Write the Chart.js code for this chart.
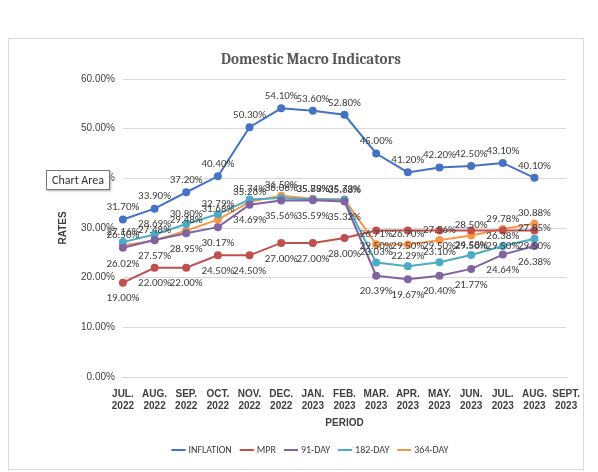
<!DOCTYPE html>
<html>
<head>
<meta charset="utf-8">
<script src="https://cdn.jsdelivr.net/npm/chart.js@4"></script>
<style>
  body { margin: 0; background: #fff; }
  #wrap { position: absolute; left: 8px; top: 38px; width: 574px; height: 430px; border: 1px solid #d9d9d9; }
  #tip { position: absolute; left: 46px; top: 170px; border: 1px solid #777; background: #fff; font: 12px Calibri, "Liberation Sans", sans-serif; color: #333; padding: 2px 5px; box-shadow: 1px 1px 2px #aaa; }
</style>
</head>
<body>
<div id="wrap"><canvas id="c"></canvas></div>
<div id="tip">Chart Area</div>
<script>
const periods = [["JUL.","2022"],["AUG.","2022"],["SEP.","2022"],["OCT.","2022"],["NOV.","2022"],["DEC.","2022"],["JAN.","2023"],["FEB.","2023"],["MAR.","2023"],["APR.","2023"],["MAY.","2023"],["JUN.","2023"],["JUL.","2023"],["AUG.","2023"],["SEPT.","2023"]];
const inflation = [31.70, 33.90, 37.20, 40.40, 50.30, 54.10, 53.60, 52.80, 45.00, 41.20, 42.20, 42.50, 43.10, 40.10, null];
const mpr = [19.00, 22.00, 22.00, 24.50, 24.50, 27.00, 27.00, 28.00, 29.50, 29.50, 29.50, 29.50, 29.50, 29.50, null];
const day91 = [26.02, 27.57, 28.95, 30.17, 34.69, 35.56, 35.59, 35.32, 20.39, 19.67, 20.40, 21.77, 24.64, 26.38, null];
const day182 = [27.16, 28.69, 30.80, 32.79, 35.74, 36.06, 35.79, 35.68, 23.03, 22.29, 23.10, 24.58, 26.38, 27.85, null];
const day364 = [26.50, 27.48, 29.48, 31.68, 35.26, 36.50, 35.88, 35.73, 26.71, 26.70, 27.56, 28.50, 29.78, 30.88, null];

const labelPlugin = {
  id: 'pointLabels',
  afterDatasetsDraw(chart) {
    const ctx = chart.ctx;
    ctx.save();
    ctx.font = '11px Calibri, "Liberation Sans", sans-serif';
    ctx.fillStyle = '#404040';
    ctx.textAlign = 'center';
    const offs = [-12, 16, 16, -10, -10];
    chart.data.datasets.forEach((ds, i) => {
      chart.getDatasetMeta(i).data.forEach((pt, j) => {
        const v = ds.data[j];
        if (v == null) return;
        ctx.fillText(v.toFixed(2) + '%', pt.x, pt.y + offs[i]);
      });
    });
    ctx.restore();
  }
};

function line(label, data, color) {
  return { label, data, borderColor: color, backgroundColor: color, borderWidth: 2, pointRadius: 3, pointStyle: 'circle', tension: 0 };
}

new Chart(document.getElementById('c'), {
  type: 'line',
  data: {
    labels: periods,
    datasets: [
      line('INFLATION', inflation, '#4472c4'),
      line('MPR', mpr, '#c0504d'),
      line('91-DAY', day91, '#8064a2'),
      line('182-DAY', day182, '#4bacc6'),
      line('364-DAY', day364, '#f79646')
    ]
  },
  options: {
    responsive: true,
    maintainAspectRatio: false,
    animation: false,
    layout: { padding: { left: 44, right: 14, top: 6, bottom: 4 } },
    plugins: {
      title: { display: true, text: 'Domestic Macro Indicators', color: '#595959', font: { family: 'Cambria, "DejaVu Serif", serif', size: 15, weight: 'bold' }, padding: { top: 6, bottom: 10 } },
      legend: { position: 'bottom', labels: { usePointStyle: true, pointStyle: 'line', boxWidth: 26, color: '#404040', font: { family: 'Calibri, "Liberation Sans", sans-serif', size: 10 } } },
      tooltip: { enabled: false }
    },
    scales: {
      y: {
        min: 0, max: 60,
        ticks: { stepSize: 10, color: '#404040', font: { size: 10 }, padding: 8, callback: v => v.toFixed(2) + '%' },
        grid: { color: '#d9d9d9', drawTicks: false },
        border: { display: false },
        title: { display: true, text: 'RATES', color: '#404040', font: { size: 10, weight: 'bold' } }
      },
      x: {
        ticks: { color: '#404040', font: { size: 10, weight: 'bold' }, maxRotation: 0, autoSkip: false },
        grid: { display: false },
        border: { color: '#d9d9d9' },
        title: { display: true, text: 'PERIOD', color: '#404040', font: { size: 10, weight: 'bold' }, padding: { top: 2, bottom: 6 } }
      }
    }
  },
  plugins: [labelPlugin]
});
</script>
</body>
</html>
